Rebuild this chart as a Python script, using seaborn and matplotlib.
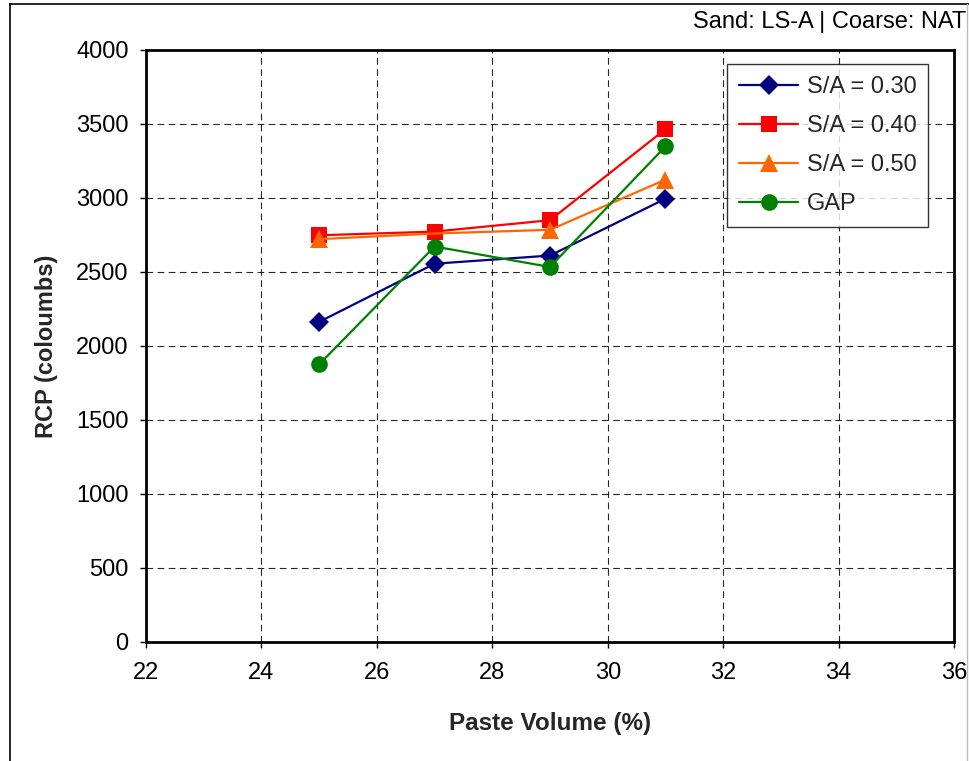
import matplotlib
matplotlib.use("Agg")
import matplotlib.pyplot as plt
import seaborn as sns
import pandas as pd
from matplotlib.lines import Line2D

# Paste volume (%) and rapid chloride permeability (coulombs)
paste_volume = [25, 27, 29, 31]
rcp_sa030 = [2163, 2556, 2611, 2995]
rcp_sa040 = [2748, 2773, 2850, 3465]
rcp_sa050 = [2722, 2760, 2785, 3124]
rcp_gap = [1876, 2672, 2534, 3348]

series_names = ["S/A = 0.30", "S/A = 0.40", "S/A = 0.50", "GAP"]
series_values = [rcp_sa030, rcp_sa040, rcp_sa050, rcp_gap]
colors = ["#000080", "#FF0000", "#FF6600", "#008000"]
markers = ["D", "s", "^", "o"]
marker_sizes = [10, 12, 13, 12]
# points that carry a marker (the S/A = 0.50 point at 27 % is drawn without one)
marker_points = [None, None, [0, 2, 3], None]

x_ticks = [22, 24, 26, 28, 30, 32, 34, 36]
y_ticks = [0, 500, 1000, 1500, 2000, 2500, 3000, 3500, 4000]

sns.set_theme(style="white")
plt.rcParams["font.family"] = ["Liberation Sans", "DejaVu Sans"]

df = pd.concat(
    [pd.DataFrame({"pv": paste_volume, "rcp": vals, "series": name})
     for name, vals in zip(series_names, series_values)],
    ignore_index=True,
)

fig = plt.figure(figsize=(9.69, 7.61), dpi=100)
ax = fig.add_axes([0.1507, 0.1564, 0.8338, 0.7779])

for name, col, mk, ms, mev in zip(series_names, colors, markers, marker_sizes,
                                  marker_points):
    sub = df[df["series"] == name]
    sns.lineplot(data=sub, x="pv", y="rcp", ax=ax, color=col, marker=mk,
                 markersize=ms, markeredgecolor=col, markeredgewidth=0,
                 markevery=mev, linewidth=1.6, label=name, legend=False,
                 zorder=3)

ax.set_xlim(22, 36)
ax.set_ylim(0, 4000)
ax.set_xticks(x_ticks)
ax.set_yticks(y_ticks)
ax.set_xticklabels([str(v) for v in x_ticks])
ax.set_yticklabels([str(v) for v in y_ticks])
ax.tick_params(axis="both", which="major", labelsize=17, colors="black",
               direction="out", length=4.5, width=1, bottom=True, left=True)
ax.tick_params(axis="x", pad=10)
ax.tick_params(axis="y", pad=8)

ax.grid(True, color="black", linestyle=(0, (6, 4)), linewidth=0.8, alpha=0.85)
for sp in ax.spines.values():
    sp.set_visible(True)
    sp.set_color("black")
    sp.set_linewidth(2)

ax.set_xlabel("Paste Volume (%)", fontsize=17.5, fontweight="bold", labelpad=20)
ax.set_ylabel("RCP (coloumbs)", fontsize=17, fontweight="bold", labelpad=13)

handles = [Line2D([0], [0], color=c, marker=m, markersize=s, markeredgewidth=0,
                  linewidth=1.6) for c, m, s in zip(colors, markers, marker_sizes)]
leg = ax.legend(handles, series_names, loc="upper right",
                bbox_to_anchor=(0.968, 0.9764), fontsize=17, frameon=True,
                fancybox=False, shadow=False, handlelength=2.5,
                labelspacing=0.72, borderpad=0.5, handletextpad=0.35,
                borderaxespad=0)
leg.get_frame().set_edgecolor("black")
leg.get_frame().set_linewidth(1)

fig.text(0.9975, 0.971, "Sand: LS-A | Coarse: NAT", ha="right", va="center",
         fontsize=17, color="black")

# outer chart frame
fig.add_artist(Line2D([10 / 969, 10 / 969], [0, 1 - 4 / 761],
                      transform=fig.transFigure, color="black", linewidth=1.2))
fig.add_artist(Line2D([10 / 969, 1], [1 - 4 / 761, 1 - 4 / 761],
                      transform=fig.transFigure, color="black", linewidth=1.2))
fig.add_artist(Line2D([967 / 969, 967 / 969], [0, 1 - 4 / 761],
                      transform=fig.transFigure, color="#bbbbbb", linewidth=1))

fig.savefig("out.png", dpi=100)
